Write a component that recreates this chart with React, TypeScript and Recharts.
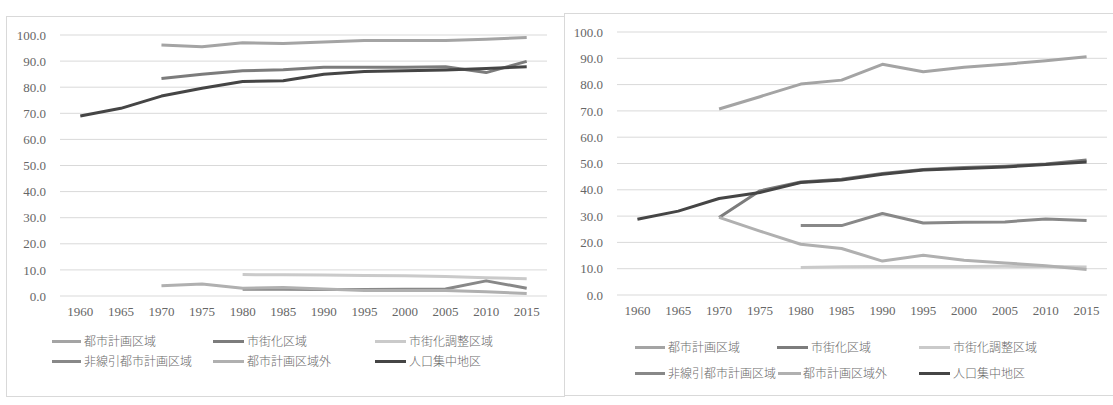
import React from 'react';
import { LineChart, Line, XAxis, YAxis, CartesianGrid } from 'recharts';

// Census years on the category axis
const YEARS = ['1960', '1965', '1970', '1975', '1980', '1985', '1990', '1995', '2000', '2005', '2010', '2015'];

// Series names and their grey tones
const SERIES_NAMES = ['都市計画区域', '市街化区域', '市街化調整区域', '非線引都市計画区域', '都市計画区域外', '人口集中地区'];
const SERIES_COLORS = ['#a4a4a4', '#7c7c7c', '#cacaca', '#888888', '#b0b0b0', '#454545'];

// Value axis ticks (%)
const Y_TICKS = [0, 10, 20, 30, 40, 50, 60, 70, 80, 90, 100];

// Left chart (%)
const LEFT_TOSHI = [null, null, 96.2, 95.5, 97.0, 96.7, 97.3, 97.9, 97.9, 97.9, 98.4, 99.0];
const LEFT_SHIGAIKA = [null, null, 83.3, 85.0, 86.3, 86.7, 87.6, 87.6, 87.6, 87.8, 85.6, 89.9];
const LEFT_CHOSEI = [null, null, null, null, 8.2, 8.1, 8.0, 7.9, 7.8, 7.5, 7.0, 6.6];
const LEFT_HISENBIKI = [null, null, null, null, 2.6, 2.6, 2.5, 2.5, 2.6, 2.7, 5.8, 3.0];
const LEFT_GAI = [null, null, 3.9, 4.6, 3.0, 3.3, 2.7, 2.1, 2.1, 2.1, 1.6, 1.0];
const LEFT_DID = [69.0, 71.9, 76.6, 79.6, 82.2, 82.5, 85.0, 86.0, 86.3, 86.6, 87.2, 87.8];

// Right chart (%)
const RIGHT_TOSHI = [null, null, 70.7, 75.4, 80.2, 81.7, 87.7, 84.9, 86.6, 87.7, 89.1, 90.6];
const RIGHT_SHIGAIKA = [null, null, 29.5, 39.6, 43.0, 44.0, 46.2, 47.7, 48.5, 49.0, 49.8, 51.3];
const RIGHT_CHOSEI = [null, null, null, null, 10.5, 10.7, 10.8, 10.8, 10.8, 10.9, 10.8, 10.6];
const RIGHT_HISENBIKI = [null, null, null, null, 26.4, 26.4, 31.0, 27.4, 27.7, 27.8, 28.9, 28.3];
const RIGHT_GAI = [null, null, 29.5, 24.3, 19.3, 17.7, 12.9, 15.1, 13.2, 12.2, 11.1, 9.7];
const RIGHT_DID = [28.8, 31.9, 36.7, 39.0, 42.8, 43.7, 45.9, 47.5, 48.1, 48.7, 49.6, 50.6];

type Num = number | null;

function buildRows(cols: Num[][]) {
  return YEARS.map((year, i) => {
    const row: Record<string, any> = { year };
    cols.forEach((c, k) => {
      row['s' + k] = c[i];
    });
    return row;
  });
}

const LEFT_ROWS = buildRows([LEFT_TOSHI, LEFT_SHIGAIKA, LEFT_CHOSEI, LEFT_HISENBIKI, LEFT_GAI, LEFT_DID]);
const RIGHT_ROWS = buildRows([RIGHT_TOSHI, RIGHT_SHIGAIKA, RIGHT_CHOSEI, RIGHT_HISENBIKI, RIGHT_GAI, RIGHT_DID]);

const TICK_FONT = { fontFamily: '"Liberation Serif", "DejaVu Serif", serif', fontSize: 13, fill: '#666666' };
const LEGEND_FONT = '"Noto Sans CJK JP", "Noto Sans", sans-serif';

type LegendSlot = { x1: number; x2: number; tx: number; y: number };

function Legend({ slots }: { slots: LegendSlot[] }) {
  return (
    <>
      {SERIES_NAMES.map((name, i) => {
        const s = slots[i];
        return (
          <React.Fragment key={name}>
            <div
              style={{
                position: 'absolute',
                left: s.x1,
                top: s.y - 1.5,
                width: s.x2 - s.x1,
                height: 3,
                background: SERIES_COLORS[i],
              }}
            />
            <div
              style={{
                position: 'absolute',
                left: s.tx,
                top: s.y - 9,
                height: 18,
                lineHeight: '18px',
                fontFamily: LEGEND_FONT,
                fontSize: 12,
                fontWeight: 300,
                color: '#6a6a6a',
                whiteSpace: 'nowrap',
              }}
            >
              {name}
            </div>
          </React.Fragment>
        );
      })}
    </>
  );
}

type PanelProps = {
  rows: Record<string, any>[];
  left: number;
  width: number;
  margin: { top: number; right: number; left: number; bottom: number };
};

function Panel({ rows, left, width, margin }: PanelProps) {
  const yAxisWidth = 50;
  const plotWidth = width - margin.left - margin.right - yAxisWidth;
  const half = plotWidth / YEARS.length / 2;
  return (
    <div style={{ position: 'absolute', left, top: 0 }}>
      <LineChart width={width} height={405} data={rows} margin={margin}>
        <CartesianGrid vertical={false} stroke="#d9d9d9" strokeWidth={1} />
        <XAxis
          dataKey="year"
          interval={0}
          axisLine={false}
          tickLine={false}
          tickSize={6}
          tickMargin={5}
          height={30}
          padding={{ left: half, right: half }}
          tick={TICK_FONT}
        />
        <YAxis
          width={yAxisWidth}
          domain={[0, 100]}
          ticks={Y_TICKS}
          interval={0}
          axisLine={false}
          tickLine={false}
          tickSize={6}
          tickMargin={8}
          tickFormatter={(v: number) => v.toFixed(1)}
          tick={TICK_FONT}
        />
        {SERIES_NAMES.map((name, i) => (
          <Line
            key={name}
            name={name}
            dataKey={'s' + i}
            type="linear"
            stroke={SERIES_COLORS[i]}
            strokeWidth={3}
            strokeLinejoin="round"
            dot={false}
            activeDot={false}
            isAnimationActive={false}
          />
        ))}
      </LineChart>
    </div>
  );
}

const LEFT_LEGEND: LegendSlot[] = [
  { x1: 52, x2: 81, tx: 84, y: 341 },
  { x1: 213, x2: 244, tx: 247, y: 341 },
  { x1: 375, x2: 406, tx: 409, y: 341 },
  { x1: 52, x2: 81, tx: 84, y: 361 },
  { x1: 213, x2: 244, tx: 247, y: 361 },
  { x1: 375, x2: 406, tx: 409, y: 361 },
];

const RIGHT_LEGEND: LegendSlot[] = [
  { x1: 635, x2: 665, tx: 668, y: 347 },
  { x1: 777, x2: 808, tx: 811, y: 347 },
  { x1: 919, x2: 950, tx: 953, y: 347 },
  { x1: 635, x2: 665, tx: 668, y: 373 },
  { x1: 778, x2: 801, tx: 803, y: 373 },
  { x1: 919, x2: 950, tx: 953, y: 373 },
];

export default function App() {
  return (
    <div
      style={{
        position: 'absolute',
        left: 0,
        top: 0,
        width: 1113,
        height: 405,
        overflow: 'hidden',
        background: '#ffffff',
      }}
    >
      <div
        style={{
          position: 'absolute',
          left: 6,
          top: 16,
          width: 559,
          height: 381,
          boxSizing: 'border-box',
          border: '1px solid #d9d9d9',
        }}
      />
      <div
        style={{
          position: 'absolute',
          left: 564,
          top: 13,
          width: 600,
          height: 383,
          boxSizing: 'border-box',
          border: '1px solid #d9d9d9',
          background: '#ffffff',
        }}
      />
      <Panel rows={LEFT_ROWS} left={0} width={560} margin={{ top: 35, right: 13, left: 10, bottom: 79 }} />
      <Panel rows={RIGHT_ROWS} left={560} width={553} margin={{ top: 32, right: 6, left: 7, bottom: 80 }} />
      <Legend slots={LEFT_LEGEND} />
      <Legend slots={RIGHT_LEGEND} />
    </div>
  );
}
